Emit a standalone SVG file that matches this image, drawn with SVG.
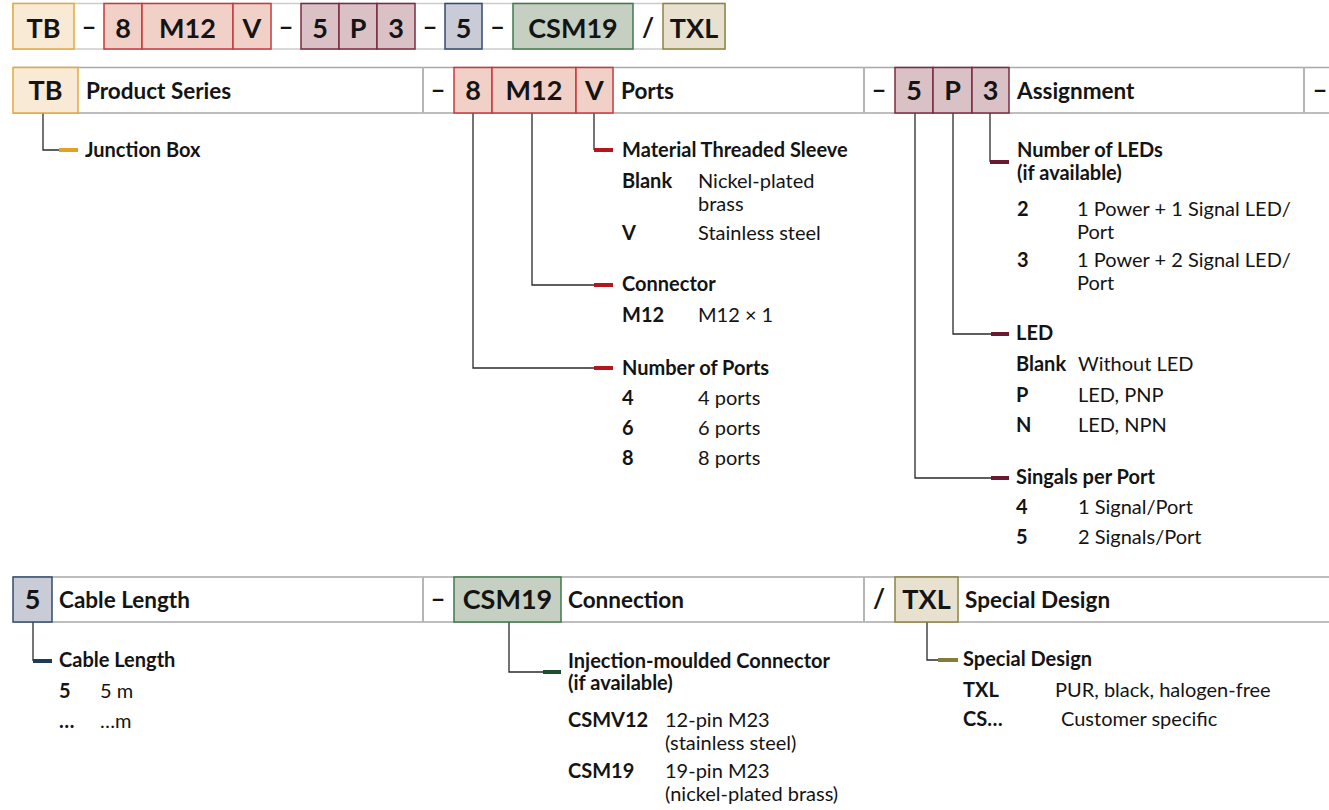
<svg xmlns="http://www.w3.org/2000/svg" width="1329" height="810" viewBox="0 0 1329 810">
<style>
text{font-family:Lato,"Noto Sans","Liberation Sans",sans-serif;fill:#141414}
.code{font-weight:700;font-size:27px;text-anchor:middle}
.tcode{font-weight:700;font-size:27px;text-anchor:middle}
.title{font-weight:700;font-size:22.5px}
.sep{font-size:26px;text-anchor:middle;font-weight:700}
.h{font-weight:700;font-size:20px}
.k{font-weight:700;font-size:20px}
.v{font-size:20px}
.rowline{stroke:#a9a9a9;stroke-width:1.6;fill:none}
.div{stroke:#b5b5b5;stroke-width:2;fill:none}
.c-tb{fill:#f9ead6;stroke:#e2aa3c;stroke-width:1.5}
.c-port{fill:#f1d0c7;stroke:#c9383d;stroke-width:1.5}
.c-asg{fill:#d9c1c5;stroke:#7b2b3f;stroke-width:1.5}
.c-len{fill:#c9cbd6;stroke:#2f4c6e;stroke-width:1.5}
.c-con{fill:#c6d0c2;stroke:#3e7a4b;stroke-width:1.5}
.c-sp{fill:#e8e1cf;stroke:#8c8442;stroke-width:1.5}
.ln{stroke:#2a2a2a;stroke-width:1.3;fill:none}
.tk{stroke-width:4;fill:none}
</style>

<!-- Top code bar -->
<g id="codebar">
<rect x="13" y="3.5" width="712" height="45.5" fill="#fff" stroke="#cccccc" stroke-width="1.5"/>
<rect class="c-tb" x="13" y="3.5" width="61" height="45.5"/>
<rect class="c-port" x="104" y="3.5" width="38" height="45.5"/>
<rect class="c-port" x="142" y="3.5" width="91" height="45.5"/>
<rect class="c-port" x="233" y="3.5" width="38" height="45.5"/>
<rect class="c-asg" x="301" y="3.5" width="38" height="45.5"/>
<rect class="c-asg" x="339" y="3.5" width="38" height="45.5"/>
<rect class="c-asg" x="377" y="3.5" width="38" height="45.5"/>
<rect class="c-len" x="445" y="3.5" width="37" height="45.5"/>
<rect class="c-con" x="513" y="3.5" width="120" height="45.5"/>
<rect class="c-sp" x="663" y="3.5" width="62" height="45.5"/>
<text class="tcode" x="43.5" y="37.5">TB</text>
<text class="sep" x="89" y="36">–</text>
<text class="tcode" x="123" y="37.5">8</text>
<text class="tcode" x="187.5" y="37.5">M12</text>
<text class="tcode" x="252" y="37.5">V</text>
<text class="sep" x="286" y="36">–</text>
<text class="tcode" x="320" y="37.5">5</text>
<text class="tcode" x="358" y="37.5">P</text>
<text class="tcode" x="396" y="37.5">3</text>
<text class="sep" x="430" y="36">–</text>
<text class="tcode" x="463.5" y="37.5">5</text>
<text class="sep" x="497.5" y="36">–</text>
<text class="tcode" x="573" y="37.5">CSM19</text>
<text class="sep" x="648" y="37">/</text>
<text class="tcode" x="694" y="37.5">TXL</text>
</g>

<!-- Row 1 frame -->
<g id="row1">
<line class="rowline" x1="13" y1="67.5" x2="1329" y2="67.5"/>
<line class="rowline" x1="13" y1="113" x2="1329" y2="113"/>
<line class="div" x1="423" y1="67.5" x2="423" y2="113"/>
<line class="div" x1="864" y1="67.5" x2="864" y2="113"/>
<line class="div" x1="1304" y1="67.5" x2="1304" y2="113"/>
<text class="sep" x="438" y="99">–</text>
<text class="sep" x="879" y="99">–</text>
<text class="sep" x="1320" y="99">–</text>
</g>

<!-- Row 3 frame -->
<g id="row3">
<line class="rowline" x1="13" y1="577" x2="1329" y2="577"/>
<line class="rowline" x1="13" y1="622" x2="1329" y2="622"/>
<line class="div" x1="423" y1="577" x2="423" y2="622"/>
<line class="div" x1="864" y1="577" x2="864" y2="622"/>
<text class="sep" x="438" y="608">–</text>
<text class="sep" x="879" y="608">/</text>
</g>

<!-- Connectors -->
<g id="connectors">
<polyline class="ln" points="43,113 43,150 60,150"/>
<line class="tk" stroke="#e0a325" x1="59" y1="150" x2="78" y2="150"/>
<polyline class="ln" points="594,113 594,150"/>
<line class="tk" stroke="#b4161e" x1="594" y1="150" x2="613" y2="150"/>
<polyline class="ln" points="532,113 532,285 595,285"/>
<line class="tk" stroke="#b4161e" x1="594" y1="285" x2="613" y2="285"/>
<polyline class="ln" points="473,113 473,368 595,368"/>
<line class="tk" stroke="#b4161e" x1="594" y1="368" x2="613" y2="368"/>
<polyline class="ln" points="990,113 990,162"/>
<line class="tk" stroke="#6a1a30" x1="990" y1="162" x2="1009" y2="162"/>
<polyline class="ln" points="953,113 953,334 992,334"/>
<line class="tk" stroke="#6a1a30" x1="991" y1="334" x2="1009" y2="334"/>
<polyline class="ln" points="915,113 915,478 992,478"/>
<line class="tk" stroke="#6a1a30" x1="991" y1="478" x2="1009" y2="478"/>
<polyline class="ln" points="33,622 33,661"/>
<line class="tk" stroke="#1f3b5c" x1="33" y1="661" x2="52" y2="661"/>
<polyline class="ln" points="509,622 509,672 544,672"/>
<line class="tk" stroke="#1e4d2b" x1="543" y1="672" x2="561" y2="672"/>
<polyline class="ln" points="927,622 927,660 939,660"/>
<line class="tk" stroke="#857b3a" x1="938" y1="660" x2="958" y2="660"/>
</g>

<!-- Nodes -->
<g id="n-series">
<rect class="c-tb" x="13" y="67.5" width="65" height="45.5"/>
<text class="code" x="45.5" y="100">TB</text>
<text class="title" x="86" y="99">Product Series</text>
<text class="h" x="85" y="157">Junction Box</text>
</g>

<g id="n-ports">
<rect class="c-port" x="454" y="67.5" width="38" height="45.5"/>
<rect class="c-port" x="492" y="67.5" width="84" height="45.5"/>
<rect class="c-port" x="576" y="67.5" width="37" height="45.5"/>
<text class="code" x="473" y="100">8</text>
<text class="code" x="534" y="100">M12</text>
<text class="code" x="594.5" y="100">V</text>
<text class="title" x="621" y="99">Ports</text>
</g>

<g id="n-sleeve">
<text class="h" x="622" y="157">Material Threaded Sleeve</text>
<text class="k" x="622" y="188">Blank</text>
<text class="v" x="698" y="188">Nickel-plated</text>
<text class="v" x="698" y="211">brass</text>
<text class="k" x="622" y="240">V</text>
<text class="v" x="698" y="240">Stainless steel</text>
</g>

<g id="n-connector">
<text class="h" x="622" y="291">Connector</text>
<text class="k" x="622" y="322">M12</text>
<text class="v" x="698" y="322">M12 × 1</text>
</g>

<g id="n-numports">
<text class="h" x="622" y="375">Number of Ports</text>
<text class="k" x="622" y="405">4</text>
<text class="v" x="698" y="405">4 ports</text>
<text class="k" x="622" y="435">6</text>
<text class="v" x="698" y="435">6 ports</text>
<text class="k" x="622" y="465">8</text>
<text class="v" x="698" y="465">8 ports</text>
</g>

<g id="n-assignment">
<rect class="c-asg" x="895" y="67.5" width="38" height="45.5"/>
<rect class="c-asg" x="933" y="67.5" width="39" height="45.5"/>
<rect class="c-asg" x="972" y="67.5" width="37" height="45.5"/>
<text class="code" x="914" y="100">5</text>
<text class="code" x="952.5" y="100">P</text>
<text class="code" x="990.5" y="100">3</text>
<text class="title" x="1017" y="99">Assignment</text>
</g>

<g id="n-leds">
<text class="h" x="1017" y="157">Number of LEDs</text>
<text class="h" x="1017" y="180">(if available)</text>
<text class="k" x="1017" y="216">2</text>
<text class="v" x="1077" y="216">1 Power + 1 Signal LED/</text>
<text class="v" x="1077" y="239">Port</text>
<text class="k" x="1017" y="267">3</text>
<text class="v" x="1077" y="267">1 Power + 2 Signal LED/</text>
<text class="v" x="1077" y="290">Port</text>
</g>

<g id="n-led">
<text class="h" x="1016" y="340">LED</text>
<text class="k" x="1016" y="371">Blank</text>
<text class="v" x="1078" y="371">Without LED</text>
<text class="k" x="1016" y="402">P</text>
<text class="v" x="1078" y="402">LED, PNP</text>
<text class="k" x="1016" y="432">N</text>
<text class="v" x="1078" y="432">LED, NPN</text>
</g>

<g id="n-signals">
<text class="h" x="1016" y="484">Singals per Port</text>
<text class="k" x="1016" y="514">4</text>
<text class="v" x="1078" y="514">1 Signal/Port</text>
<text class="k" x="1016" y="544">5</text>
<text class="v" x="1078" y="544">2 Signals/Port</text>
</g>

<g id="n-cable">
<rect class="c-len" x="13" y="577" width="39" height="45"/>
<text class="code" x="32.5" y="609">5</text>
<text class="title" x="59" y="608">Cable Length</text>
<text class="h" x="59" y="667">Cable Length</text>
<text class="k" x="59" y="698">5</text>
<text class="v" x="100" y="698">5 m</text>
<text class="k" x="59" y="728">…</text>
<text class="v" x="100" y="728">…m</text>
</g>

<g id="n-connection">
<rect class="c-con" x="454" y="577" width="107" height="45"/>
<text class="code" x="507.5" y="609">CSM19</text>
<text class="title" x="568" y="608">Connection</text>
<text class="h" x="568" y="668">Injection-moulded Connector</text>
<text class="h" x="568" y="690">(if available)</text>
<text class="k" x="568" y="727">CSMV12</text>
<text class="v" x="665" y="727">12-pin M23</text>
<text class="v" x="665" y="750">(stainless steel)</text>
<text class="k" x="568" y="778">CSM19</text>
<text class="v" x="665" y="778">19-pin M23</text>
<text class="v" x="665" y="801">(nickel-plated brass)</text>
</g>

<g id="n-special">
<rect class="c-sp" x="895" y="577" width="63" height="45"/>
<text class="code" x="926.5" y="609">TXL</text>
<text class="title" x="965" y="608">Special Design</text>
<text class="h" x="963" y="666">Special Design</text>
<text class="k" x="963" y="697">TXL</text>
<text class="v" x="1055" y="697">PUR, black, halogen-free</text>
<text class="k" x="963" y="726">CS…</text>
<text class="v" x="1061" y="726">Customer specific</text>
</g>
</svg>
